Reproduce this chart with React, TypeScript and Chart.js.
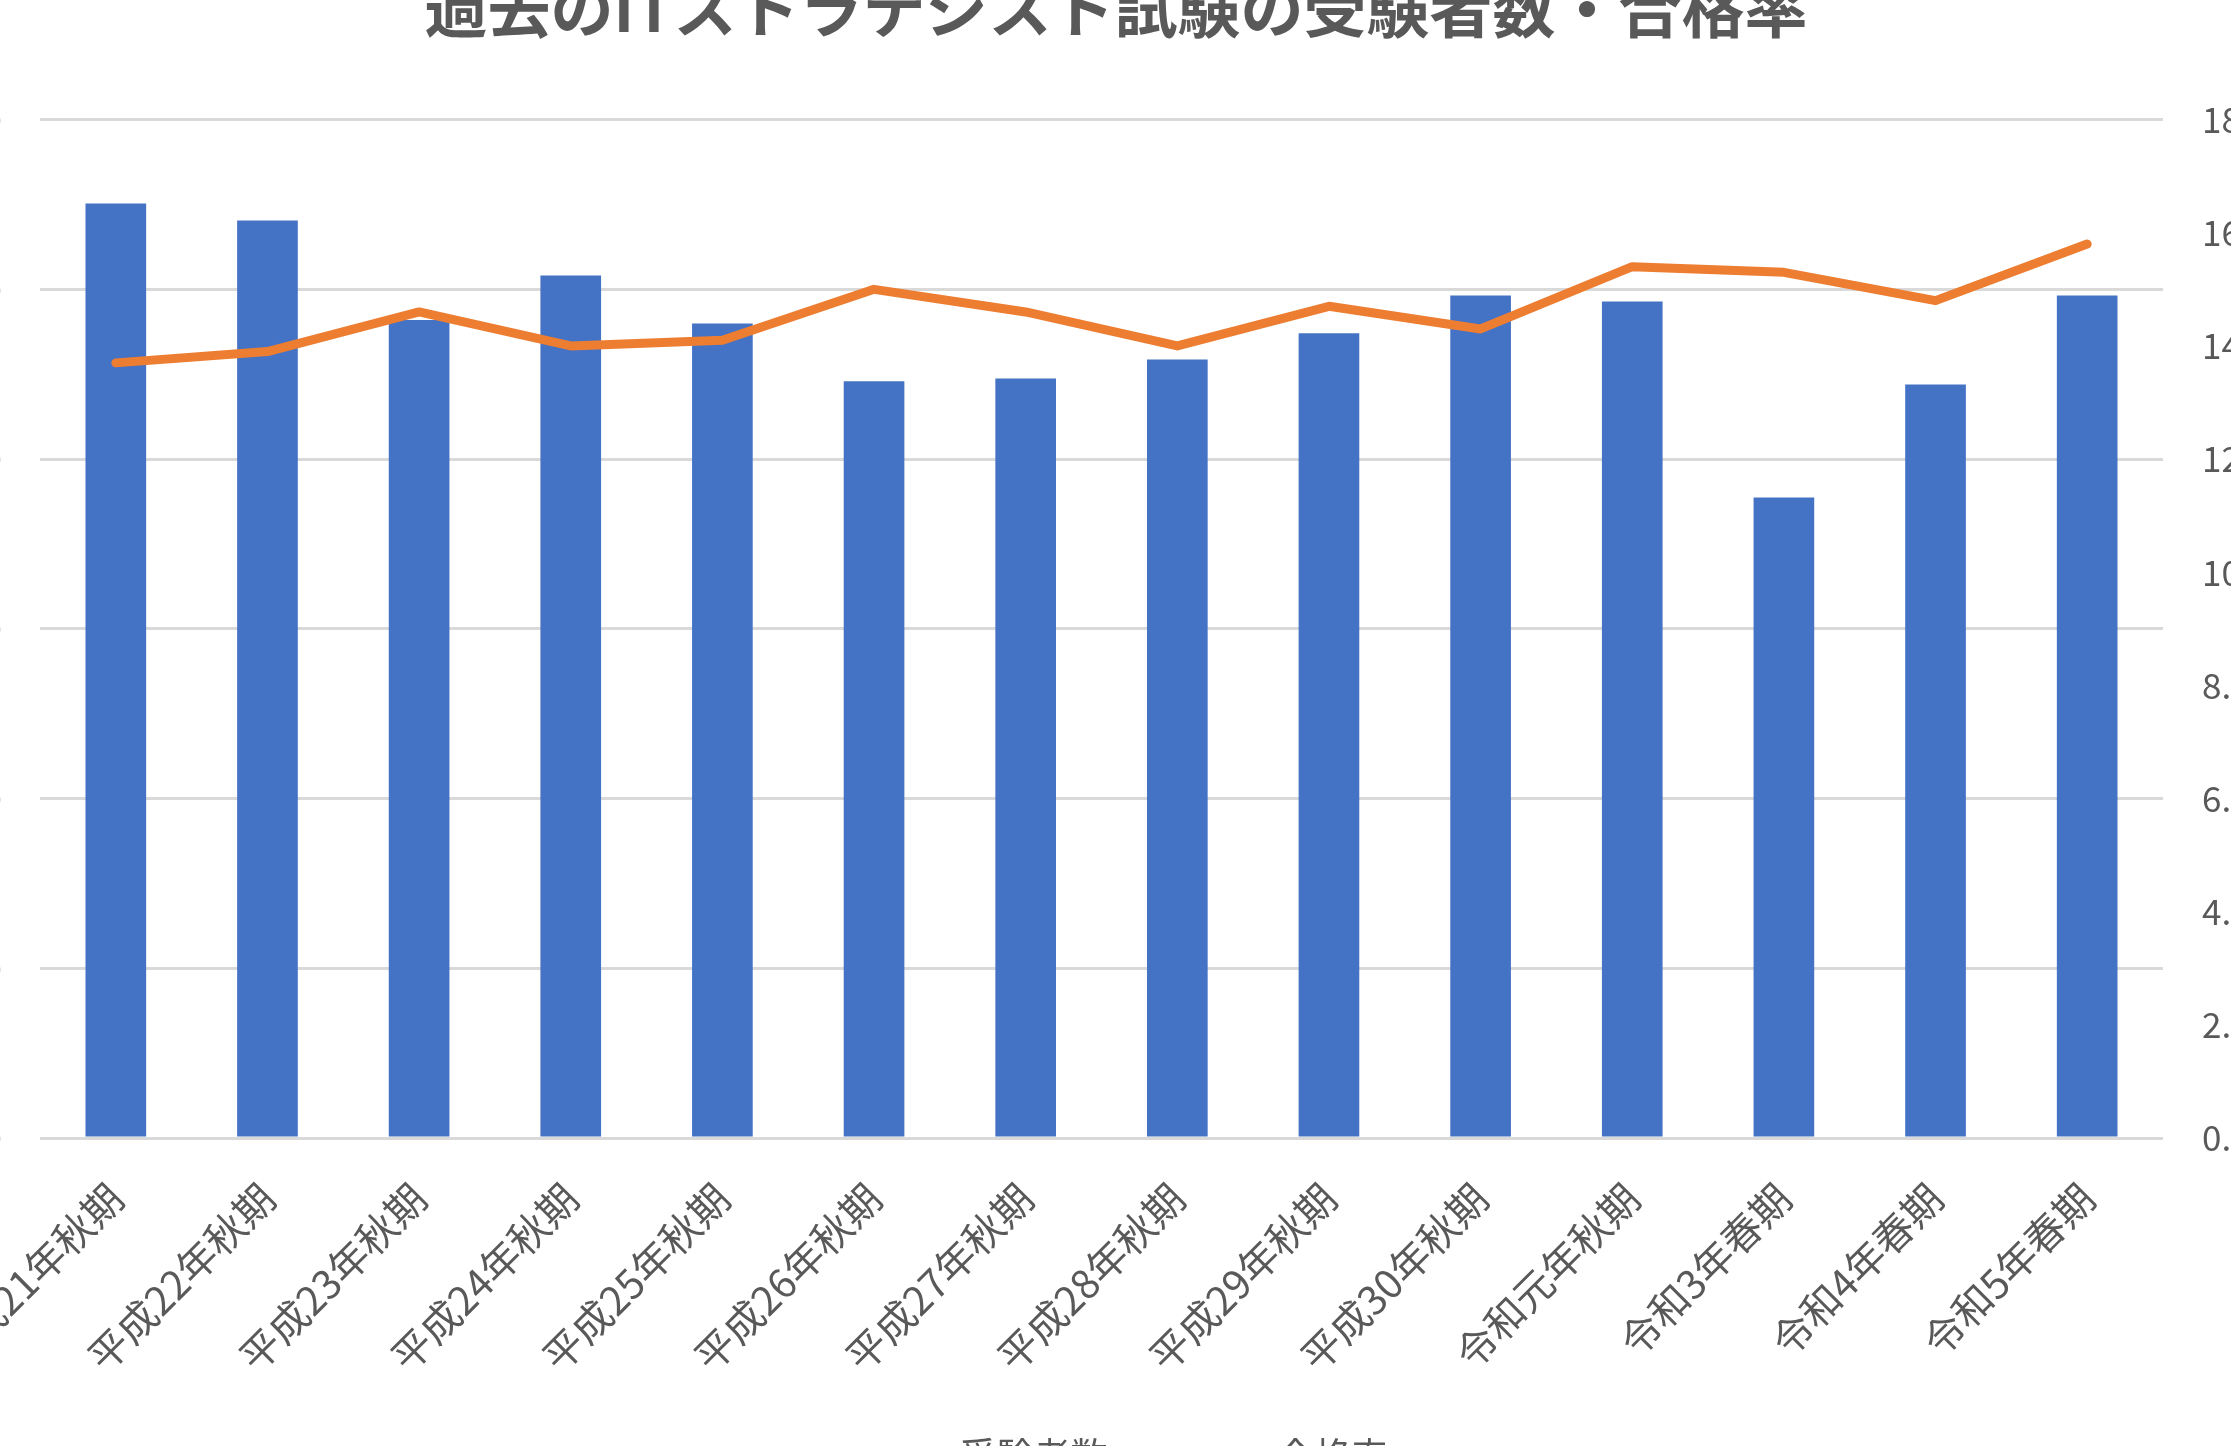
import { useEffect, useRef } from 'react';
import { Chart, registerables } from 'chart.js';

Chart.register(...registerables);

const periods = [
  '平成21年秋期', '平成22年秋期', '平成23年秋期', '平成24年秋期', '平成25年秋期',
  '平成26年秋期', '平成27年秋期', '平成28年秋期', '平成29年秋期', '平成30年秋期',
  '令和元年秋期', '令和3年春期', '令和4年春期', '令和5年春期',
];
const examinees = [5506, 5406, 4820, 5082, 4799, 4458, 4475, 4587, 4741, 4964, 4929, 3774, 4440, 4964];
const passRates = [13.7, 13.9, 14.6, 14.0, 14.1, 15.0, 14.6, 14.0, 14.7, 14.3, 15.4, 15.3, 14.8, 15.8];

const FONT = '"Noto Sans CJK JP", "Noto Sans", sans-serif';
const TEXT = '#595959';

const App = () => {
  const canvasRef = useRef<HTMLCanvasElement>(null);

  useEffect(() => {
    if (!canvasRef.current) return;

    const chart = new Chart(canvasRef.current, {
      type: 'bar',
      data: {
        labels: periods,
        datasets: [
          {
            type: 'bar',
            label: '受験者数',
            data: examinees,
            backgroundColor: '#4472C4',
            borderWidth: 0,
            barPercentage: 0.4,
            categoryPercentage: 1,
            yAxisID: 'y',
            order: 1,
            pointStyle: 'rect',
          },
          {
            type: 'line',
            label: '合格率',
            data: passRates,
            borderColor: '#ED7D31',
            backgroundColor: '#ED7D31',
            borderWidth: 9,
            borderCapStyle: 'round',
            borderJoinStyle: 'round',
            pointRadius: 0,
            tension: 0,
            yAxisID: 'y1',
            order: 0,
            pointStyle: 'line',
          },
        ],
      },
      options: {
        responsive: true,
        maintainAspectRatio: false,
        animation: false,
        layout: { padding: 0 },
        plugins: {
          title: {
            display: true,
            text: '過去のITストラテジスト試験の受験者数・合格率',
            color: TEXT,
            font: { family: FONT, size: 63, weight: 'bold' },
            padding: { top: 50, bottom: 74 },
          },
          legend: {
            position: 'bottom',
            labels: {
              color: TEXT,
              font: { family: FONT, size: 37 },
              usePointStyle: true,
              boxHeight: 10,
              pointStyleWidth: 97,
              padding: 54,
              sort: (a, b) => (a.datasetIndex ?? 0) - (b.datasetIndex ?? 0),
            },
          },
          tooltip: { enabled: false },
        },
        scales: {
          x: {
            grid: { display: false },
            border: { display: false },
            ticks: {
              color: TEXT,
              font: { family: FONT, size: 40 },
              minRotation: 45,
              maxRotation: 45,
              autoSkip: false,
              padding: 28,
            },
            afterFit: (scale) => {
              scale.height = 245;
            },
          },
          y: {
            position: 'left',
            min: 0,
            max: 6000,
            border: { display: false },
            grid: { color: '#d9d9d9', lineWidth: 3, drawTicks: false },
            ticks: {
              stepSize: 1000,
              color: TEXT,
              font: { family: FONT, size: 35 },
              padding: 38,
              callback: (v) => Number(v).toLocaleString('en-US'),
            },
            afterFit: (scale) => {
              scale.width = 180;
            },
          },
          y1: {
            position: 'right',
            min: 0,
            max: 18,
            border: { display: false },
            grid: { drawOnChartArea: false, drawTicks: false },
            ticks: {
              stepSize: 2,
              color: TEXT,
              font: { family: FONT, size: 35 },
              padding: 39,
              callback: (v) => Number(v).toFixed(1) + '%',
            },
            afterFit: (scale) => {
              scale.width = 209;
            },
          },
        },
      },
    });

    return () => {
      chart.destroy();
    };
  }, []);

  return (
    <div style={{ position: 'fixed', inset: 0, overflow: 'hidden', background: '#fff' }}>
      <div style={{ position: 'absolute', left: -140, top: -80, width: 2512, height: 1564 }}>
        <canvas ref={canvasRef} style={{ display: 'block' }} />
      </div>
    </div>
  );
};

export default App;
